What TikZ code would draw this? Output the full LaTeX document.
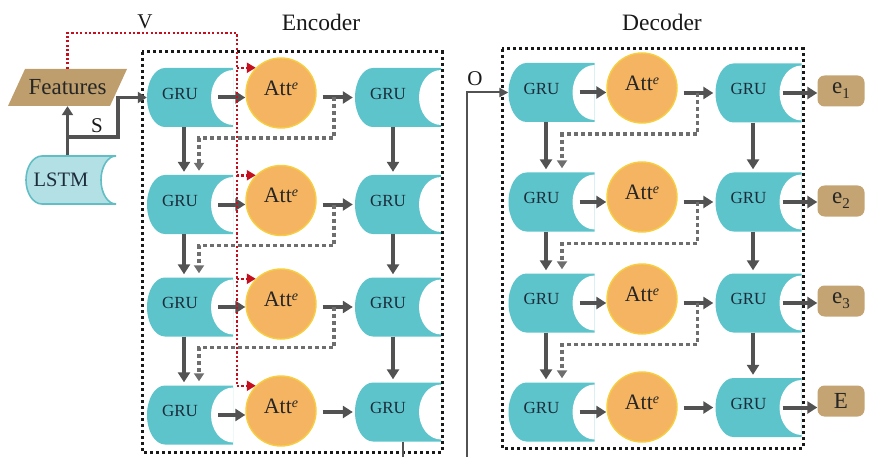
\documentclass[tikz,border=0pt]{standalone}
\usepackage{fontspec}
\setmainfont{Liberation Serif}
\usetikzlibrary{arrows.meta}
\definecolor{gruteal}{RGB}{92,196,202}
\definecolor{grutext}{RGB}{28,44,58}
\definecolor{lstmfill}{RGB}{178,224,229}
\definecolor{lstmline}{RGB}{98,190,197}
\definecolor{attfill}{RGB}{245,180,98}
\definecolor{attline}{RGB}{246,206,62}
\definecolor{tanfill}{RGB}{190,158,108}
\definecolor{outfill}{RGB}{196,164,114}
\definecolor{arrgray}{RGB}{82,82,82}
\definecolor{dotgray}{RGB}{110,110,110}
\definecolor{vred}{RGB}{196,16,30}

\newcommand{\attlbl}{Att\raisebox{6pt}{\fontsize{14}{14}\selectfont\itshape e}}
\newcommand{\outlbl}[1]{e\raisebox{-5pt}{\fontsize{15}{15}\selectfont #1}}

\begin{document}
\begin{tikzpicture}[x=1pt, y=1pt,
  gru/.style={minimum width=86pt, minimum height=59pt, inner sep=0pt,
    text=grutext, font=\fontsize{17}{20}\selectfont,
    text height=11.2pt, text depth=8pt,
    execute at begin node={\hspace*{-20pt}},
    path picture={
      \fill[gruteal] ([xshift=18pt]path picture bounding box.north west)
        -- (path picture bounding box.north east)
        -- (path picture bounding box.south east)
        -- ([xshift=18pt]path picture bounding box.south west)
        arc[start angle=270, end angle=90, x radius=18pt, y radius=29.5pt] -- cycle;
      \fill[white] (path picture bounding box.east) ellipse[x radius=22pt, y radius=27.5pt];
    }},
  lstmnode/.style={minimum width=92pt, minimum height=50pt, inner sep=0pt,
    text=grutext, font=\fontsize{20.5}{24}\selectfont,
    execute at begin node={\hspace*{-20pt}},
    path picture={
      \filldraw[fill=lstmfill, draw=lstmline, line width=1.6pt]
        ([xshift=17pt,yshift=-1pt]path picture bounding box.north west)
        -- ([xshift=-1pt,yshift=-1pt]path picture bounding box.north east)
        arc[start angle=90, end angle=270, x radius=15pt, y radius=24pt]
        -- ([xshift=17pt,yshift=1pt]path picture bounding box.south west)
        arc[start angle=270, end angle=90, x radius=16pt, y radius=24pt] -- cycle;
    }},
  featnode/.style={minimum width=119pt, minimum height=37pt, inner sep=0pt,
    font=\fontsize{23}{26}\selectfont, text=black!85,
    path picture={
      \fill[tanfill] ([xshift=17pt]path picture bounding box.north west)
        -- (path picture bounding box.north east)
        -- ([xshift=-17pt]path picture bounding box.south east)
        -- (path picture bounding box.south west) -- cycle;
    }},
  att/.style={circle, fill=attfill, draw=attline, line width=1.4pt,
    minimum size=70pt, inner sep=0pt, text=black!85,
    text height=14.5pt, text depth=10pt,
    font=\fontsize{22}{24}\selectfont},
  outbox/.style={rounded corners=7pt, fill=outfill, minimum width=47pt,
    minimum height=31pt, inner sep=0pt, text=black!85,
    font=\fontsize{23}{26}\selectfont},
  lbl/.style={font=\fontsize{21}{24}\selectfont, text=black!90, inner sep=0pt},
  titlelbl/.style={font=\fontsize{23.5}{27}\selectfont, text=black!90, inner sep=0pt},
  garrow/.style={draw=arrgray, line width=4pt, -{Triangle[length=10pt,width=12pt]}},
  gdot/.style={draw=dotgray, line width=3.4pt, dash pattern=on 4pt off 3pt,
    -{Triangle[length=8pt,width=10pt]}},
  sarrow/.style={draw=arrgray, line width=3.6pt, -{Triangle[length=9pt,width=11pt]}},
  thinarrow/.style={draw=arrgray, line width=2pt, -{Triangle[length=9pt,width=9pt]}},
  thinline/.style={draw=arrgray, line width=2pt},
  redv/.style={draw=vred, line width=2.5pt, dash pattern=on 2.2pt off 2.2pt},
  redarrow/.style={redv, -{Triangle[length=9pt,width=10pt]}},
  dotbox/.style={draw=black!90, line width=3pt, dash pattern=on 3pt off 3pt}
]
\useasboundingbox (0,0) rectangle (872,-457);

% ---- titles and labels ----
\node[titlelbl] (enctitle) at (321,-22) {Encoder};
\node[titlelbl] (dectitle) at (662,-22) {Decoder};
\node[lbl] (vlab) at (145,-22) {V};
\node[lbl] (slab) at (97,-126) {S};
\node[lbl] (olab) at (475,-79) {O};

% ---- inputs ----
\node[featnode] (feat) at (67.5,-87.5) {Features};
\node[lstmnode] (lstm) at (71,-180) {LSTM};

% ---- encoder ----
\node[gru] (eg1) at (190,-97.5) {GRU};
\node[gru] (eg2) at (190,-204.5) {GRU};
\node[gru] (eg3) at (190,-307) {GRU};
\node[gru] (eg4) at (190,-415) {GRU};
\node[att] (ea1) at (281,-93) {\attlbl};
\node[att] (ea2) at (281,-200.5) {\attlbl};
\node[att] (ea3) at (281,-304) {\attlbl};
\node[att] (ea4) at (281,-411) {\attlbl};
\node[gru] (eh1) at (398,-97.5) {GRU};
\node[gru] (eh2) at (398,-204.5) {GRU};
\node[gru] (eh3) at (398,-307) {GRU};
\node[gru] (eh4) at (398,-412) {GRU};

% ---- decoder ----
\node[gru] (dg1) at (551.5,-92.5) {GRU};
\node[gru] (dg2) at (551.5,-202) {GRU};
\node[gru] (dg3) at (551.5,-303) {GRU};
\node[gru] (dg4) at (551.5,-412) {GRU};
\node[att] (da1) at (642,-88) {\attlbl};
\node[att] (da2) at (642,-197) {\attlbl};
\node[att] (da3) at (642,-299) {\attlbl};
\node[att] (da4) at (642,-407) {\attlbl};
\node[gru] (dh1) at (758.5,-93) {GRU};
\node[gru] (dh2) at (758.5,-202) {GRU};
\node[gru] (dh3) at (758.5,-303) {GRU};
\node[gru] (dh4) at (758.5,-407.5) {GRU};

% ---- outputs ----
\node[outbox] (out1) at (841,-91) {\outlbl{1}};
\node[outbox] (out2) at (841,-201) {\outlbl{2}};
\node[outbox] (out3) at (841,-301) {\outlbl{3}};
\node[outbox] (out4) at (841,-401) {E};

% ---- dotted frames ----
\draw[dotbox] (142,-52) rectangle (442,-452);
\draw[dotbox] (502,-49) rectangle (803,-448);

% ---- helper points ----
\coordinate (vtop) at (237,-33);
\coordinate (sj) at (67.5,-137);
\coordinate (sk) at (118,-137);
\coordinate (ebot) at (403,-457);
\coordinate (obot) at (467,-457);

% ---- input connectors ----
\draw[sarrow] (feat.south |- lstm.north) -- (feat.south);
\draw[sarrow] (sj) -- (sk) |- (eg1.west);
\draw[thinline] ([xshift=5pt]eh4.south) -- (ebot);
\draw[thinarrow] (obot) |- (dg1.west);

% ---- encoder connectors ----
\foreach \k in {1,2,3,4} {
  \draw[garrow] ([xshift=-15pt]eg\k.east) -- (eg\k.east -| ea\k.west);
  \draw[garrow, shorten <=6pt, shorten >=2pt] (ea\k.east |- eh\k.west) -- (eh\k.west);
}
\foreach \k/\m in {1/2,2/3,3/4} {
  \draw[gdot] ([xshift=-21pt]eh\k.west) |- ([xshift=9pt,yshift=-11pt]eg\k.south)
    -- ([xshift=9pt,yshift=4pt]eg\m.north);
  \draw[garrow] ([xshift=-6pt]eg\k.south) -- ([xshift=-6pt,yshift=3pt]eg\m.north);
  \draw[garrow] ([xshift=-5pt]eh\k.south) -- ([xshift=-5pt,yshift=3pt]eh\m.north);
}

% ---- decoder connectors ----
\foreach \k in {1,2,3,4} {
  \draw[garrow] ([xshift=-15pt]dg\k.east) -- (dg\k.east -| da\k.west);
  \draw[garrow, shorten <=6pt, shorten >=2pt] (da\k.east |- dh\k.west) -- (dh\k.west);
  \draw[garrow] ([xshift=-19pt]dh\k.east) -- (dh\k.east -| out\k.west);
}
\foreach \k/\m in {1/2,2/3,3/4} {
  \draw[gdot] ([xshift=-18pt]dh\k.west) |- ([xshift=10.5pt,yshift=-12pt]dg\k.south)
    -- ([xshift=10.5pt,yshift=4pt]dg\m.north);
  \draw[garrow] ([xshift=-5.5pt]dg\k.south) -- ([xshift=-5.5pt,yshift=3pt]dg\m.north);
  \draw[garrow] ([xshift=-5.5pt]dh\k.south) -- ([xshift=-5.5pt,yshift=3pt]dh\m.north);
}

% ---- V connections ----
\draw[redv] (feat.north) |- (vtop) -- (vtop |- ea4.135);
\foreach \k in {1,2,3,4} {
  \draw[redarrow] (vtop |- ea\k.135) -- (ea\k.135);
}
\end{tikzpicture}
\end{document}
